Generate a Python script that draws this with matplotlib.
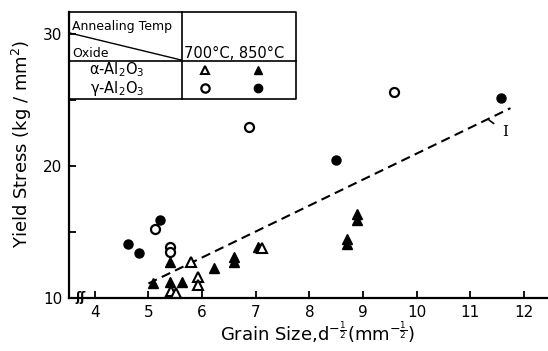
import matplotlib
matplotlib.use("Agg")
import matplotlib.pyplot as plt

# alpha-Al2O3, 700C (open triangles)
a700_x = [5.80, 5.92, 5.92, 5.43, 5.52, 7.12]
a700_y = [12.7, 11.6, 11.0, 10.5, 10.35, 13.8]
# alpha-Al2O3, 850C (filled triangles)
a850_x = [5.09, 5.41, 5.63, 5.41, 6.22, 6.60, 6.60, 7.04, 8.71, 8.71, 8.89, 8.89]
a850_y = [11.1, 11.2, 11.2, 12.7, 12.3, 12.7, 13.1, 13.9, 14.1, 14.5, 15.9, 16.4]
# gamma-Al2O3, 700C (open circles)
g700_x = [5.12, 5.41, 5.41, 6.87, 9.58]
g700_y = [15.2, 13.9, 13.5, 23.0, 25.6]
# gamma-Al2O3, 850C (filled circles)
g850_x = [4.61, 4.82, 5.21, 8.50, 11.58]
g850_y = [14.1, 13.4, 15.95, 20.45, 25.2]

# dashed line I
line_x = [5.0, 11.75]
line_y = [11.1, 24.4]

xticks = [4, 5, 6, 7, 8, 9, 10, 11, 12]

fig = plt.figure(figsize=(5.48, 3.51), dpi=100)
ax = fig.add_axes([0.126, 0.151, 0.874, 0.815])

ms = 6.5
ax.plot(line_x, line_y, color="black", linestyle=(0, (4.5, 2.6)), linewidth=1.5)
ax.plot(a850_x, a850_y, "^", color="black", ms=ms, clip_on=False)
ax.plot(a700_x, a700_y, "^", mfc="white", mec="black", mew=1.5, ms=ms, clip_on=False)
ax.plot(g850_x, g850_y, "o", color="black", ms=ms)
ax.plot(g700_x, g700_y, "o", mfc="white", mec="black", mew=1.6, ms=ms)

ax.annotate("I", xy=(11.35, 23.5), xytext=(11.65, 22.6), fontsize=11,
            fontfamily="DejaVu Serif", ha="center", va="center",
            arrowprops=dict(arrowstyle="-", color="black", lw=1.2,
                            shrinkA=5, shrinkB=0))

ax.set_xlim(3.52, 12.45)
ax.set_ylim(10, 31.7)
ax.set_xticks(xticks)
ax.set_yticks([10, 20, 30])
ax.set_yticks([15, 25], minor=True)
ax.tick_params(axis="both", which="both", direction="in", length=5, width=1.3,
               labelsize=11, pad=5)
ax.spines["top"].set_visible(False)
ax.spines["right"].set_visible(False)
ax.spines["left"].set_linewidth(1.6)
ax.spines["bottom"].set_linewidth(1.6)

ax.set_xlabel(r"Grain Size,d$^{-\frac{1}{2}}$(mm$^{-\frac{1}{2}}$)", fontsize=13)
ax.xaxis.set_label_coords(0.518, -0.075)
ax.set_ylabel(r"Yield Stress (kg / mm$^2$)", fontsize=13)
ax.yaxis.set_label_coords(-0.074, 0.54)

# axis break mark
ax.text(0.024, 0.0, "ʃʃ", transform=ax.transAxes, fontsize=9,
        ha="center", va="center", fontweight="bold")

# legend table
T = ax.transAxes
tl = dict(color="black", lw=1.2, transform=T, clip_on=False)
x0, x1, x2 = 0.0, 0.236, 0.474
y0, y1, y2 = 1.0, 0.829, 0.696
ax.plot([x0, x2, x2, x0, x0], [y0, y0, y2, y2, y0], **tl)
ax.plot([x1, x1], [y0, y2], **tl)
ax.plot([x0, x2], [y1, y1], **tl)
ax.plot([0.0, 0.234], [0.927, 0.832], color="black", lw=1.0, transform=T)

ax.text(0.006, 0.948, "Annealing Temp", transform=T, fontsize=9, va="center")
ax.text(0.006, 0.853, "Oxide", transform=T, fontsize=9, va="center")
ax.text(0.240, 0.853, "700°C, 850°C", transform=T, fontsize=10.5, va="center")
ax.text(0.100, 0.797, "α-Al$_2$O$_3$", transform=T, fontsize=10.5,
        ha="center", va="center")
ax.text(0.100, 0.734, "γ-Al$_2$O$_3$", transform=T, fontsize=10.5,
        ha="center", va="center")
ax.plot([0.284], [0.797], "^", mfc="white", mec="black", mew=1.5, ms=6, transform=T)
ax.plot([0.395], [0.797], "^", color="black", ms=6, transform=T)
ax.plot([0.284], [0.734], "o", mfc="white", mec="black", mew=1.6, ms=6, transform=T)
ax.plot([0.395], [0.734], "o", color="black", ms=6, transform=T)

fig.savefig("out.png", dpi=100)
